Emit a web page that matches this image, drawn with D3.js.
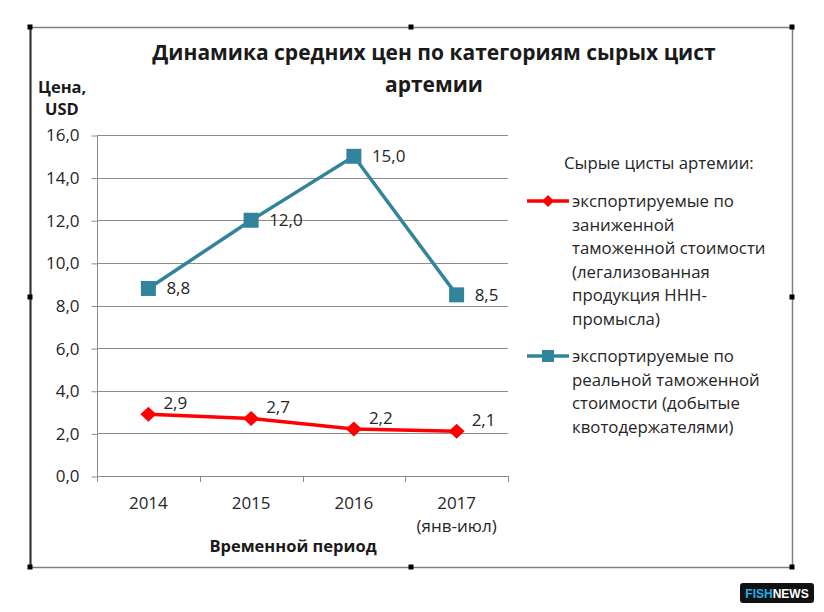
<!DOCTYPE html>
<html>
<head>
<meta charset="utf-8">
<script src="https://cdn.jsdelivr.net/npm/d3@7"></script>
<style>
  body { margin: 0; background: #fff; }
  svg text { font-family: "Open Sans", "Noto Sans", sans-serif; }
</style>
</head>
<body>
<div id="chart"></div>
<script>
const years = ["2014", "2015", "2016", "2017"];
const yearNotes = ["", "", "", "(янв-июл)"];
const underValued = [2.9, 2.7, 2.2, 2.1];
const realValued = [8.8, 12.0, 15.0, 8.5];
const yTicks = [0, 2, 4, 6, 8, 10, 12, 14, 16];
const legendTitle = "Сырые цисты артемии:";
const legendRed = ["экспортируемые по", "заниженной", "таможенной стоимости", "(легализованная", "продукция ННН-", "промысла)"];
const legendTeal = ["экспортируемые по", "реальной таможенной", "стоимости (добытые", "квотодержателями)"];

const W = 824, H = 612;
const plot = { left: 97, right: 508, top: 135, bottom: 476 };
const red = "#ff0000", teal = "#31849b";
const textColor = "#262626";
const fmt = v => v.toFixed(1).replace(".", ",");

const svg = d3.select("#chart").append("svg")
  .attr("width", W)
  .attr("height", H);

// chart frame
svg.append("rect")
  .attr("x", 30.5).attr("y", 27.5)
  .attr("width", 762).attr("height", 540)
  .attr("fill", "#fff")
  .attr("stroke", "#808080")
  .attr("stroke-width", 1.5);
svg.append("line")
  .attr("x1", 30.5).attr("x2", 30.5).attr("y1", 27).attr("y2", 568)
  .attr("stroke", "#333").attr("stroke-width", 2);
[[30, 27], [411, 27], [792, 27], [30, 297], [792, 297], [30, 567], [411, 567], [792, 567]].forEach(([hx, hy]) => {
  svg.append("rect")
    .attr("x", hx - 2.5).attr("y", hy - 2.5)
    .attr("width", 5).attr("height", 5)
    .attr("fill", "#000");
});

const x = d3.scaleBand().domain(years).range([plot.left, plot.right]);
const y = d3.scaleLinear().domain([0, 16]).range([plot.bottom, plot.top]);

// gridlines
svg.append("g")
  .selectAll("line")
  .data(yTicks.filter(d => d > 0))
  .enter().append("line")
  .attr("x1", plot.left).attr("x2", plot.right)
  .attr("y1", d => Math.round(y(d)) + 0.5).attr("y2", d => Math.round(y(d)) + 0.5)
  .attr("stroke", "#8c8c8c").attr("stroke-width", 1);

// y axis
const yAxis = svg.append("g")
  .attr("transform", `translate(${plot.left + 0.5},0.5)`)
  .call(d3.axisLeft(y).tickValues(yTicks).tickFormat(fmt).tickSize(6).tickPadding(12));
yAxis.select(".domain").attr("stroke", "#8c8c8c").attr("d", `M0,${plot.top}V${plot.bottom}`);
yAxis.selectAll(".tick line").attr("stroke", "#8c8c8c");
yAxis.selectAll(".tick text")
  .style("font-size", "17px")
  .attr("fill", textColor)
  .attr("font-family", "Open Sans, sans-serif");

// x axis
const xAxis = svg.append("g")
  .attr("transform", `translate(0,${Math.round(plot.bottom) + 0.5})`)
  .call(d3.axisBottom(x).tickSize(0).tickFormat(""));
xAxis.select(".domain").attr("stroke", "#8c8c8c").attr("d", `M${plot.left},0H${plot.right}`);
svg.append("g")
  .selectAll("line")
  .data(years.concat(["end"]))
  .enter().append("line")
  .attr("x1", (d, i) => i < years.length ? Math.round(x(d)) + 0.5 : plot.right + 0.5)
  .attr("x2", (d, i) => i < years.length ? Math.round(x(d)) + 0.5 : plot.right + 0.5)
  .attr("y1", plot.bottom).attr("y2", plot.bottom + 6)
  .attr("stroke", "#8c8c8c");

svg.append("g")
  .selectAll("text")
  .data(years)
  .enter().append("text")
  .attr("x", d => x(d) + x.bandwidth() / 2)
  .attr("y", 509)
  .attr("text-anchor", "middle")
  .style("font-size", "17px")
  .attr("fill", textColor)
  .text(d => d);
svg.append("g")
  .selectAll("text")
  .data(years)
  .enter().append("text")
  .attr("x", d => x(d) + x.bandwidth() / 2)
  .attr("y", 532)
  .attr("text-anchor", "middle")
  .style("font-size", "17px")
  .attr("fill", textColor)
  .text((d, i) => yearNotes[i]);

svg.append("text")
  .attr("x", 293).attr("y", 552)
  .attr("text-anchor", "middle")
  .style("font-size", "16.5px")
  .style("font-weight", "bold")
  .attr("fill", "#1a1a1a")
  .text("Временной период");

// titles
svg.append("text")
  .attr("x", 434).attr("y", 60)
  .attr("text-anchor", "middle")
  .style("font-size", "21px")
  .style("font-weight", "bold")
  .attr("fill", "#1a1a1a")
  .text("Динамика средних цен по категориям сырых цист");
svg.append("text")
  .attr("x", 434).attr("y", 92)
  .attr("text-anchor", "middle")
  .style("font-size", "21px")
  .style("font-weight", "bold")
  .attr("fill", "#1a1a1a")
  .text("артемии");
svg.append("text")
  .attr("x", 38).attr("y", 93)
  .style("font-size", "16.5px")
  .style("font-weight", "bold")
  .attr("fill", "#1a1a1a")
  .text("Цена,");
svg.append("text")
  .attr("x", 45).attr("y", 115)
  .style("font-size", "16.5px")
  .style("font-weight", "bold")
  .attr("fill", "#1a1a1a")
  .text("USD");

// series
const cx = d => x(d) + x.bandwidth() / 2;
const line = d3.line().x(d => cx(d.year)).y(d => y(d.value));
const redData = years.map((yr, i) => ({ year: yr, value: underValued[i] }));
const tealData = years.map((yr, i) => ({ year: yr, value: realValued[i] }));

svg.append("path")
  .datum(tealData)
  .attr("d", line)
  .attr("fill", "none")
  .attr("stroke", teal)
  .attr("stroke-width", 3.5);
svg.append("g")
  .selectAll("rect")
  .data(tealData)
  .enter().append("rect")
  .attr("x", d => cx(d.year) - 7.5)
  .attr("y", d => y(d.value) - 7.5)
  .attr("width", 15).attr("height", 15)
  .attr("fill", teal);
svg.append("g")
  .selectAll("text")
  .data(tealData)
  .enter().append("text")
  .attr("x", d => cx(d.year) + 18)
  .attr("y", d => y(d.value))
  .attr("dy", "0.35em")
  .style("font-size", "17px")
  .attr("fill", textColor)
  .text(d => fmt(d.value));

svg.append("path")
  .datum(redData)
  .attr("d", line)
  .attr("fill", "none")
  .attr("stroke", red)
  .attr("stroke-width", 3.5);
svg.append("g")
  .selectAll("path")
  .data(redData)
  .enter().append("path")
  .attr("d", d => {
    const px = cx(d.year), py = y(d.value);
    return `M${px},${py - 7.5}L${px + 8},${py}L${px},${py + 7.5}L${px - 8},${py}Z`;
  })
  .attr("fill", red);
svg.append("g")
  .selectAll("text")
  .data(redData)
  .enter().append("text")
  .attr("x", d => cx(d.year) + 15)
  .attr("y", d => y(d.value) - 11)
  .attr("dy", "0.35em")
  .style("font-size", "17px")
  .attr("fill", textColor)
  .text(d => fmt(d.value));

// legend
const legend = svg.append("g");
legend.append("text")
  .attr("x", 564).attr("y", 169)
  .style("font-size", "16.8px")
  .attr("fill", textColor)
  .text(legendTitle);

function legendEntry(lines, color, top, marker) {
  const g = legend.append("g");
  g.append("line")
    .attr("x1", 527).attr("x2", 569)
    .attr("y1", top).attr("y2", top)
    .attr("stroke", color).attr("stroke-width", 3.5);
  if (marker === "diamond") {
    g.append("path")
      .attr("d", `M548,${top - 6}L554,${top}L548,${top + 6}L542,${top}Z`)
      .attr("fill", color);
  } else {
    g.append("rect")
      .attr("x", 542).attr("y", top - 6)
      .attr("width", 12).attr("height", 12)
      .attr("fill", color);
  }
  g.selectAll("text.entry")
    .data(lines)
    .enter().append("text")
    .attr("class", "entry")
    .attr("x", 572)
    .attr("y", (d, i) => top + 6 + i * 23.6)
    .style("font-size", "16.8px")
    .attr("fill", textColor)
    .text(d => d);
}
legendEntry(legendRed, red, 201, "diamond");
legendEntry(legendTeal, teal, 356, "square");

// badge
const badge = svg.append("g").attr("transform", "translate(740,583)");
badge.append("rect")
  .attr("width", 74).attr("height", 20).attr("rx", 3)
  .attr("fill", "#111");
const bt = badge.append("text")
  .attr("x", 37).attr("y", 14.5)
  .attr("text-anchor", "middle")
  .style("font-size", "12px")
  .style("font-weight", "bold")
  .style("font-family", "Liberation Sans, Arial, sans-serif");
bt.append("tspan").attr("fill", "#1fb4ec").text("FISH");
bt.append("tspan").attr("fill", "#fff").text("NEWS");
</script>
</body>
</html>
